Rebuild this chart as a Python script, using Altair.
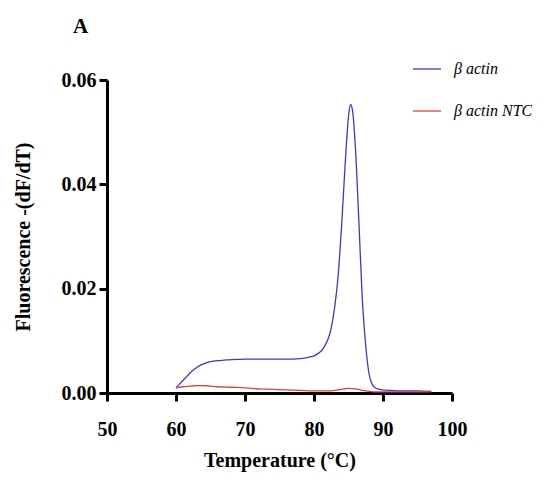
import altair as alt
import pandas as pd

# β actin melt curve (temperature °C, -dF/dT)
temp_actin = [60, 60.5, 61, 61.5, 62, 62.5, 63, 63.5, 64, 65, 66, 67, 68, 70, 72, 74, 76, 78,
              79, 80, 80.5, 81, 81.5, 82, 82.5, 83, 83.5, 84, 84.5, 85, 85.3, 85.6, 86, 86.5,
              87, 87.5, 88, 88.5, 89, 89.5, 90, 91, 93, 95, 97]
val_actin = [0.0010, 0.0017, 0.0024, 0.0031, 0.0038, 0.0044, 0.0049, 0.0053, 0.0056, 0.0060,
             0.0062, 0.0063, 0.0064, 0.0065, 0.0065, 0.0065, 0.0065, 0.0066, 0.0068, 0.0071,
             0.0075, 0.0080, 0.0089, 0.0102, 0.0125, 0.0165, 0.0225, 0.0320, 0.0435, 0.0530,
             0.0553, 0.0540, 0.0470, 0.0330, 0.0180, 0.0090, 0.0035, 0.0015, 0.0009, 0.0007,
             0.0006, 0.0005, 0.0004, 0.0004, 0.0003]

# β actin NTC
temp_ntc = [60, 61, 62, 63, 64, 65, 66, 68, 70, 72, 74, 76, 78, 80, 82, 83, 84, 85, 86, 87,
            88, 89, 90, 92, 94, 97]
val_ntc = [0.0010, 0.0012, 0.0013, 0.0014, 0.0014, 0.0013, 0.0012, 0.0011, 0.0010, 0.0008,
           0.0007, 0.0006, 0.0005, 0.0004, 0.0004, 0.0005, 0.0007, 0.0009, 0.0008, 0.0005,
           0.0003, 0.0002, 0.0002, 0.0002, 0.0002, 0.0002]

series = ["β actin", "β actin NTC"]
colors = ["#3a3ac6", "#d8423c"]
x_ticks = [50, 60, 70, 80, 90, 100]
y_ticks = [0.0, 0.02, 0.04, 0.06]

df = pd.concat([
    pd.DataFrame({"T": temp_actin, "v": val_actin, "s": series[0]}),
    pd.DataFrame({"T": temp_ntc, "v": val_ntc, "s": series[1]}),
])

serif = "Liberation Serif"

chart = alt.Chart(df).mark_line(strokeWidth=1.3, interpolate="monotone").encode(
    x=alt.X("T:Q", scale=alt.Scale(domain=[50, 100], nice=False),
            axis=alt.Axis(values=x_ticks, title="Temperature (°C)", format="d",
                          labelFlush=False, titlePadding=11, labelPadding=18)),
    y=alt.Y("v:Q", scale=alt.Scale(domain=[0, 0.06], nice=False),
            axis=alt.Axis(values=y_ticks, title="Fluorescence -(dF/dT)", format=".2f",
                          labelFlush=False, titlePadding=28, labelPadding=3)),
    color=alt.Color("s:N", scale=alt.Scale(domain=series, range=colors),
                    legend=alt.Legend(title=None, orient="none", legendX=305, legendY=-26,
                                      symbolType="stroke", symbolSize=784,
                                      symbolStrokeWidth=1.3, labelFont=serif,
                                      labelFontStyle="italic", labelFontSize=16,
                                      labelColor="black", labelOffset=12, rowPadding=19)),
).properties(
    width=345,
    height=313,
    autosize="none",
    padding={"left": 99, "top": 72, "right": 80, "bottom": 82},
    title=alt.Title("A", anchor="start", frame="group", font=serif, fontSize=21,
                    fontWeight="bold", color="black", dx=-34, dy=-13),
).configure_view(stroke=None).configure_axis(
    grid=False,
    domainColor="black", domainWidth=3,
    tickColor="black", tickWidth=3, tickSize=8,
    labelFont=serif, labelFontSize=20, labelFontWeight="bold", labelColor="black",
    titleFont=serif, titleFontSize=20, titleFontWeight="bold", titleColor="black",
)

chart.save("out.html", embed_options={"renderer": "svg", "actions": False})
